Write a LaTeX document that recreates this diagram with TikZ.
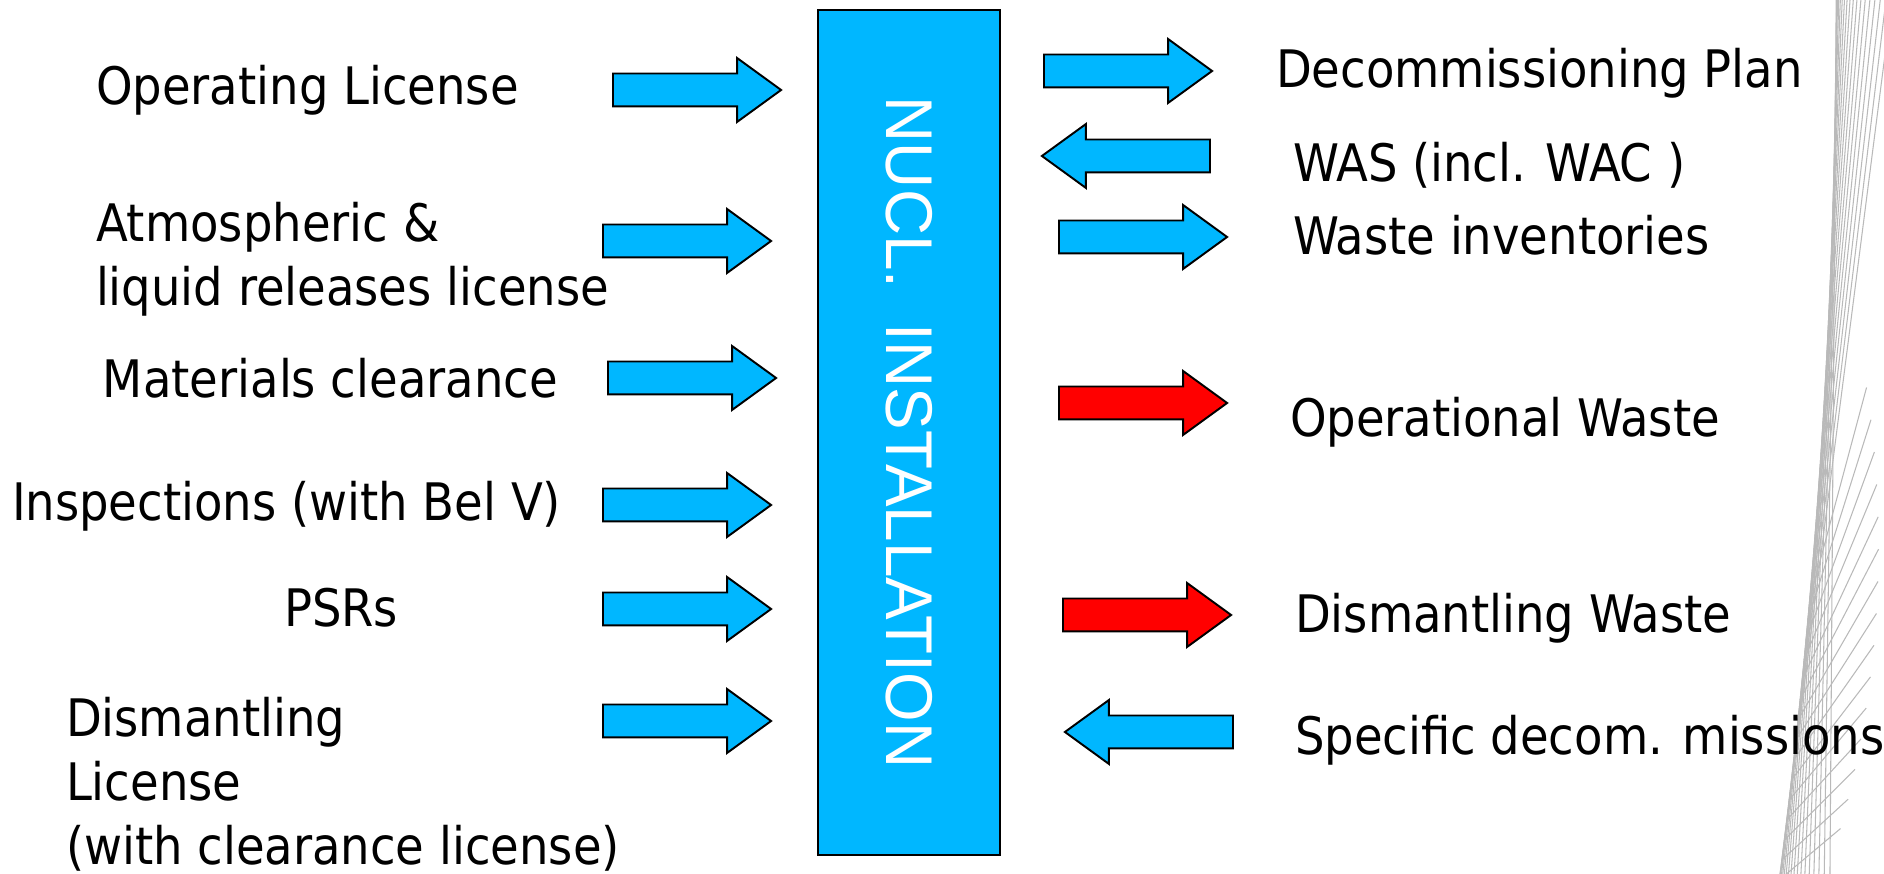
\documentclass[tikz,border=0pt]{standalone}
\usepackage{fontspec}
\setmainfont{DejaVu Sans Condensed}
\newfontfamily\boxfont[FakeStretch=0.965]{Liberation Sans}
\usetikzlibrary{shapes.arrows}
\definecolor{instblue}{RGB}{0,183,255}
\definecolor{wastered}{RGB}{255,0,0}
\begin{document}
\begin{tikzpicture}
[x=0.01cm,y=-0.01cm,%
  every node/.style={inner sep=0pt,outer sep=0pt},%
  lbl/.style={font=\fontsize{14.7}{18.3}\selectfont,align=left,anchor=base west},%
  blk/.style={single arrow,draw,line width=0.55pt,fill=instblue,anchor=tail,%
    inner ysep=0.155cm,minimum height=1.68cm,minimum width=0.62cm,%
    single arrow head extend=0.155cm,single arrow tip angle=72},%
  back/.style={blk,shape border rotate=180},%
  waste/.style={blk,fill=wastered},%
  instbox/.style={draw,line width=0.7pt,fill=instblue,rotate=-90,text=white,%
    minimum width=8.45cm,minimum height=1.82cm,%
    font=\boxfont\fontsize{18.8}{20}\selectfont},%
  fanline/.style={gray!55,line width=0.3pt}]
\useasboundingbox (0,0) rectangle (1884,874);

% background strings on the right
\begin{scope}
  \clip (0,0) rectangle (1884,874);
  \foreach \k in {1,...,18}{
    \pgfmathsetmacro{\u}{\k/18}
    \pgfmathsetmacro{\yo}{874*\u}
    \pgfmathsetmacro{\xo}{1836-56*\u*\u}
    \pgfmathsetmacro{\s}{0.12815*\u}
    \draw[fanline] ({\xo-\s*(890-\yo)},890) -- ({\xo+\s*(\yo+10)},-10);
  }
  \foreach \i in {0,...,14}{
    \pgfmathsetmacro{\ya}{880-20*\i}
    \pgfmathsetmacro{\xa}{1836-56*(\ya/874)*(\ya/874)}
    \draw[fanline] (\xa,\ya) -- ++({-40-2.5*\i}:{80+10*\i});
  }
\end{scope}

\node[instbox] (inst) at (909,432.5) {NUCL.\ \ INSTALLATION};

% inputs
\node[lbl] (oplic) at (96,105) {Operating License};
\node[lbl] (atmlic) at (96,306) {Atmospheric \&\\liquid releases license};
\node[lbl] (matclr) at (103,398) {Materials clearance};
\node[lbl] (insp) at (12,521) {Inspections (with Bel V)};
\node[lbl] (psr) at (284,627) {PSRs};
\node[lbl] (dislic) at (66,865) {Dismantling\\License\\(with clearance license)};

\node[blk] (a-oplic) at (613,90) {};
\node[blk] (a-atmlic) at (603,241) {};
\node[blk] (a-matclr) at (608,378) {};
\node[blk] (a-insp) at (603,505) {};
\node[blk] (a-psr) at (603,609) {};
\node[blk] (a-dislic) at (603,721) {};

% outputs
\node[lbl] (decplan) at (1276,88) {Decommissioning Plan};
\node[lbl] (was) at (1293,182) {WAS (incl. WAC )};
\node[lbl] (wasteinv) at (1293,255) {Waste inventories};
\node[lbl] (opwaste) at (1290,437) {Operational Waste};
\node[lbl] (diswaste) at (1295,633) {Dismantling Waste};
\node[lbl] (missions) at (1295,755) {Specific decom. missions};

\node[blk] (a-decplan) at (1044,71) {};
\node[back] (a-was) at (1210,156) {};
\node[blk] (a-wasteinv) at (1059,237) {};
\node[waste] (a-opwaste) at (1059,403) {};
\node[waste] (a-diswaste) at (1063,615) {};
\node[back] (a-missions) at (1233,732) {};
\end{tikzpicture}
\end{document}
